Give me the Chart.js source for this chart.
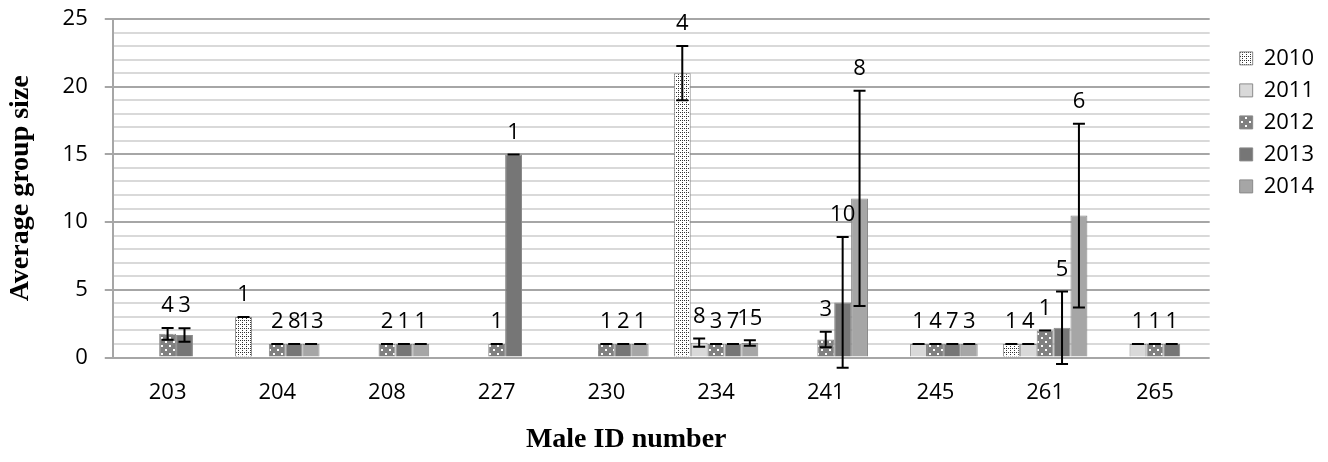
<!DOCTYPE html>
<html>
<head>
<meta charset="utf-8">
<script src="https://cdn.jsdelivr.net/npm/chart.js@4/dist/chart.umd.min.js"></script>
<style>
    body { margin: 0; background: #fff; }
    #wrap { width: 1328px; height: 462px; }
</style>
</head>
<body>
<div id="wrap"><canvas id="myChart" width="1328" height="462"></canvas></div>
<script>
// --- DATI ---
const maleIds = ['203', '204', '208', '227', '230', '234', '241', '245', '261', '265'];
const years = ['2010', '2011', '2012', '2013', '2014'];

// media della dimensione del gruppo
const mean2010 = [0, 3, 0, 0, 0, 21, 0, 0, 1, 0];
const mean2011 = [0, 0, 0, 0, 0, 1.1, 0, 1, 1, 1];
const mean2012 = [1.75, 1, 1, 1, 1, 1, 1.33, 1, 2, 1];
const mean2013 = [1.67, 1, 1, 15, 1, 1, 4.07, 1, 2.2, 1];
const mean2014 = [0, 1, 1, 0, 1, 1.07, 11.75, 1, 10.48, 0];

// barre di errore (+/-)
const err2010 = [0, 0, 0, 0, 0, 2, 0, 0, 0, 0];
const err2011 = [0, 0, 0, 0, 0, 0.3, 0, 0, 0, 0];
const err2012 = [0.43, 0, 0, 0, 0, 0, 0.57, 0, 0, 0];
const err2013 = [0.5, 0, 0, 0, 0, 0, 4.83, 0, 2.67, 0];
const err2014 = [0, 0, 0, 0, 0, 0.2, 7.95, 0, 6.78, 0];

// numero di osservazioni (etichette sopra le barre)
const n2010 = [null, 1, null, null, null, 4, null, null, 1, null];
const n2011 = [null, null, null, null, null, 8, null, 1, 4, 1];
const n2012 = [4, 2, 2, 1, 1, 3, 3, 4, 1, 1];
const n2013 = [3, 8, 1, 1, 2, 7, 10, 7, 5, 1];
const n2014 = [null, 13, 1, null, 1, 15, 8, 3, 6, null];

const yTicks = [0, 5, 10, 15, 20, 25];

// --- PATTERN ---
function makePattern(bg, dotColor, size, dots) {
    const c = document.createElement('canvas');
    c.width = size;
    c.height = size;
    const g = c.getContext('2d');
    g.fillStyle = bg;
    g.fillRect(0, 0, size, size);
    g.fillStyle = dotColor;
    dots.forEach(d => g.fillRect(d[0], d[1], d[2], d[2]));
    return g.createPattern(c, 'repeat');
}

const fills = [
    makePattern('#ffffff', '#333333', 4, [[0, 0, 1], [2, 2, 1], [2, 0, 1]]),
    '#d9d9d9',
    makePattern('#808080', '#ffffff', 8, [[1, 1, 2], [5, 5, 2]]),
    '#767676',
    '#a6a6a6'
];

const means = [mean2010, mean2011, mean2012, mean2013, mean2014];
const errs = [err2010, err2011, err2012, err2013, err2014];
const counts = [n2010, n2011, n2012, n2013, n2014];

const tickFont = { family: 'Open Sans', size: 22 };
// lineHeight ridotto: le etichette restano uguali ma non spingono l'area del grafico
const yTickFont = { family: 'Open Sans', size: 22, lineHeight: 0.15 };
const titleFont = { family: 'Liberation Serif', size: 28, weight: 'bold' };

// --- BARRE DI ERRORE + ETICHETTE N ---
const errorBars = {
    id: 'errorBars',
    afterDatasetsDraw(chart) {
        const ctx = chart.ctx;
        const y = chart.scales.y;
        ctx.save();
        ctx.strokeStyle = '#000';
        ctx.lineWidth = 2;
        ctx.fillStyle = '#000';
        ctx.font = '22px "Open Sans"';
        ctx.textAlign = 'center';
        ctx.textBaseline = 'middle';

        chart.data.datasets.forEach((ds, i) => {
            const meta = chart.getDatasetMeta(i);
            meta.data.forEach((bar, j) => {
                const v = ds.data[j];
                if (!v) return;
                const e = ds.errors[j];
                const top = y.getPixelForValue(v + e);
                const bot = y.getPixelForValue(v - e);
                const x = bar.x;

                ctx.beginPath();
                ctx.moveTo(x, top);
                ctx.lineTo(x, bot);
                ctx.moveTo(x - 6, top);
                ctx.lineTo(x + 6, top);
                ctx.moveTo(x - 6, bot);
                ctx.lineTo(x + 6, bot);
                ctx.stroke();

                const n = ds.counts[j];
                if (n != null) ctx.fillText(String(n), x, top - 22);
            });
        });
        ctx.restore();
    }
};

const ctx = document.getElementById('myChart').getContext('2d');

new Chart(ctx, {
    type: 'bar',
    data: {
        labels: maleIds,
        datasets: years.map((yr, i) => ({
            label: yr,
            data: means[i],
            errors: errs[i],
            counts: counts[i],
            backgroundColor: fills[i],
            borderColor: '#8a8a8a',
            borderWidth: 1,
            categoryPercentage: 0.77,
            barPercentage: 1.0
        }))
    },
    options: {
        responsive: false,
        animation: false,
        devicePixelRatio: 1,
        layout: { padding: { top: 19, right: 4, bottom: 1, left: 0 } },
        plugins: {
            tooltip: { enabled: false },
            legend: {
                position: 'right',
                align: 'start',
                title: { display: true, text: ' ', font: { size: 12 }, padding: { top: 4, bottom: 0 } },
                labels: {
                    boxWidth: 13,
                    boxHeight: 13,
                    padding: 10,
                    color: '#000',
                    font: tickFont
                }
            }
        },
        scales: {
            x: {
                grid: { display: false, drawTicks: false },
                border: { display: false },
                ticks: { color: '#000', font: tickFont, padding: 22, maxRotation: 0 },
                title: {
                    display: true,
                    // spazi finali: il titolo nell'originale sta un po' a sinistra del centro
                    text: 'Male ID number          ',
                    color: '#000',
                    font: { family: 'Liberation Serif', size: 28, weight: 'bold', lineHeight: 0.86 },
                    padding: { top: 0, bottom: 9 }
                }
            },
            y: {
                min: 0,
                max: 25,
                afterBuildTicks(scale) {
                    // una linea per ogni unita, etichette solo su yTicks
                    const t = [];
                    for (let v = 0; v <= 25; v++) t.push({ value: v });
                    scale.ticks = t;
                },
                ticks: {
                    color: '#000',
                    font: yTickFont,
                    padding: 17,
                    autoSkip: false,
                    callback: v => yTicks.includes(v) ? String(v) : ''
                },
                grid: {
                    color: c => yTicks.includes(c.tick.value) ? '#a6a6a6' : '#d9d9d9',
                    tickColor: c => yTicks.includes(c.tick.value) ? '#a6a6a6' : 'rgba(0,0,0,0)',
                    lineWidth: 2,
                    tickLength: 8
                },
                border: { color: '#a6a6a6', width: 2 },
                title: {
                    display: true,
                    text: 'Average group size',
                    color: '#000',
                    font: titleFont,
                    padding: { top: 4, bottom: 8 }
                }
            },
            y2: {
                position: 'right',
                grid: { display: false, drawTicks: false },
                border: { display: false },
                ticks: { display: false },
                afterFit(scale) { scale.width = 20; }
            }
        }
    },
    plugins: [errorBars]
});
</script>
</body>
</html>
